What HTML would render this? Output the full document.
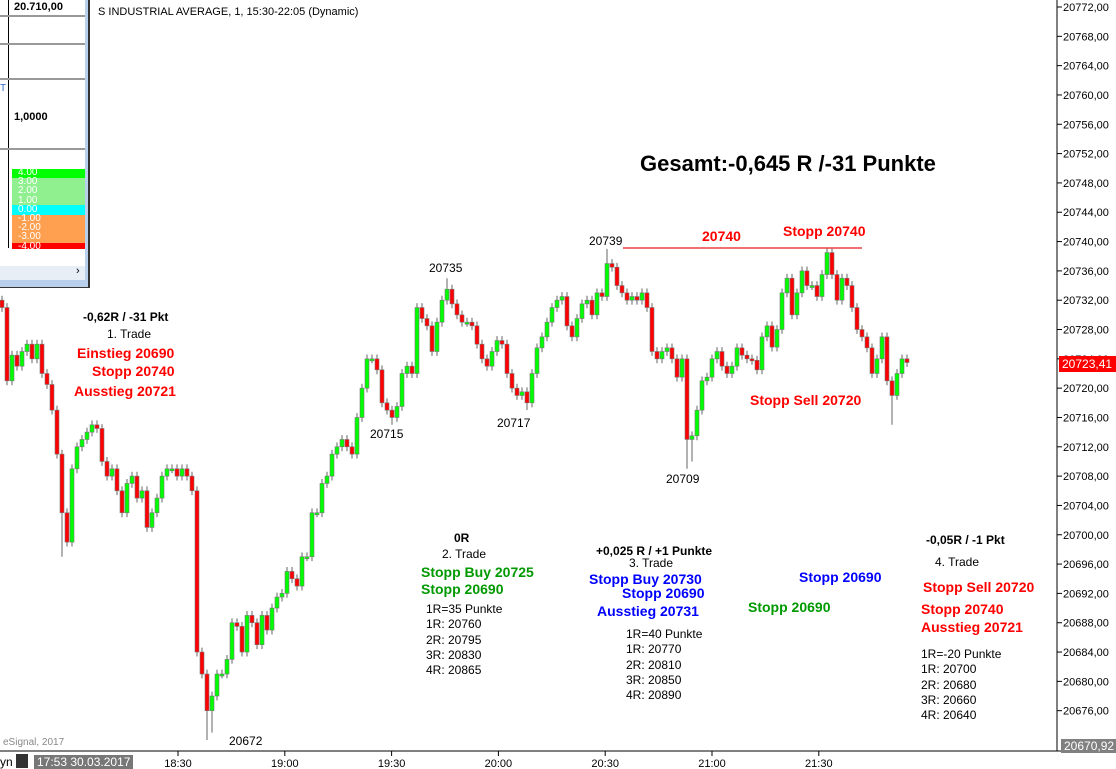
<!DOCTYPE html>
<html><head><meta charset="utf-8"><style>
body{margin:0;width:1116px;height:768px;overflow:hidden;background:#fff;font-family:"Liberation Sans",Arial,sans-serif;position:relative}
.t{position:absolute;white-space:nowrap}
.rb{color:#ff0000;font-weight:bold;font-size:14px}
.bb{color:#0000ff;font-weight:bold;font-size:14px}
.gb{color:#009900;font-weight:bold;font-size:14px}
.k{color:#000;font-size:12px}
.kb{color:#000;font-size:12px;font-weight:bold}
</style></head><body>
<svg id="chart" width="1116" height="768" style="position:absolute;left:0;top:0" font-family="Liberation Sans, Arial, sans-serif">
<g id="candles"></g>
<line x1="623" y1="248" x2="862" y2="248" stroke="#f04040" stroke-width="1.5"/>
<line x1="1057" y1="0" x2="1057" y2="751" stroke="#000"/>
<line x1="0" y1="751" x2="1116" y2="751" stroke="#000"/>
<g id="yaxis"></g>
<g id="xaxis"></g>
</svg>

<div class="t" style="left:98px;top:6px;font-size:11px;color:#000">S INDUSTRIAL AVERAGE, 1, 15:30-22:05 (Dynamic)</div>
<div class="t" style="left:640px;top:151px;font-size:22px;font-weight:bold">Gesamt:-0,645 R /-31 Punkte</div>

<div class="t kb" style="left:429px;top:261px;font-weight:normal">20735</div>
<div class="t k" style="left:589px;top:234px">20739</div>
<div class="t k" style="left:370px;top:427px">20715</div>
<div class="t k" style="left:497px;top:416px">20717</div>
<div class="t k" style="left:666px;top:472px">20709</div>
<div class="t k" style="left:229px;top:734px">20672</div>
<div class="t rb" style="left:702px;top:228px">20740</div>
<div class="t rb" style="left:783px;top:223px">Stopp 20740</div>
<div class="t rb" style="left:750px;top:392px">Stopp Sell 20720</div>

<div class="t kb" style="left:83px;top:310px">-0,62R / -31 Pkt</div>
<div class="t k" style="left:107px;top:327px">1. Trade</div>
<div class="t rb" style="left:77px;top:345px">Einstieg 20690</div>
<div class="t rb" style="left:92px;top:363px">Stopp 20740</div>
<div class="t rb" style="left:74px;top:383px">Ausstieg 20721</div>

<div class="t kb" style="left:454px;top:531px">0R</div>
<div class="t k" style="left:442px;top:547px">2. Trade</div>
<div class="t gb" style="left:421px;top:564px">Stopp Buy 20725</div>
<div class="t gb" style="left:421px;top:581px">Stopp 20690</div>
<div class="t k" style="left:426px;top:602px;line-height:15.3px">1R=35 Punkte<br>1R: 20760<br>2R: 20795<br>3R: 20830<br>4R: 20865</div>

<div class="t kb" style="left:596px;top:544px">+0,025 R / +1 Punkte</div>
<div class="t k" style="left:629px;top:556px">3. Trade</div>
<div class="t bb" style="left:589px;top:571px">Stopp Buy 20730</div>
<div class="t bb" style="left:622px;top:585px">Stopp 20690</div>
<div class="t bb" style="left:597px;top:603px">Ausstieg 20731</div>
<div class="t k" style="left:626px;top:627px;line-height:15.3px">1R=40 Punkte<br>1R: 20770<br>2R: 20810<br>3R: 20850<br>4R: 20890</div>

<div class="t bb" style="left:799px;top:569px">Stopp 20690</div>
<div class="t gb" style="left:748px;top:599px">Stopp 20690</div>

<div class="t kb" style="left:926px;top:533px">-0,05R / -1 Pkt</div>
<div class="t k" style="left:935px;top:555px">4. Trade</div>
<div class="t rb" style="left:923px;top:579px">Stopp Sell 20720</div>
<div class="t rb" style="left:921px;top:601px">Stopp 20740</div>
<div class="t rb" style="left:921px;top:619px">Ausstieg 20721</div>
<div class="t k" style="left:921px;top:647px;line-height:15.3px">1R=-20 Punkte<br>1R: 20700<br>2R: 20680<br>3R: 20660<br>4R: 20640</div>

<div class="t" style="left:3px;top:737px;font-size:10px;color:#888">eSignal, 2017</div>
<div class="t" style="left:1059px;top:356px;background:#ff0000;color:#fff;font-size:12px;padding:1px 3px;width:52px">20723,41</div>
<div class="t" style="left:1061px;top:739px;background:#808080;color:#fff;font-size:12px;padding:0 3px">20670,92</div>
<div class="t" style="left:0;top:755px;font-size:12px">yn</div>
<div class="t" style="left:16px;top:754px;width:12px;height:14px;background:#333"></div>
<div class="t" style="left:34px;top:755px;background:#777;color:#fff;font-size:12px;padding:0 3px">17:53 30.03.2017</div>

<div style="position:absolute;left:0;top:0;width:88px;height:287px;background:#b8d0ec;border-right:2px solid #333;border-bottom:1px solid #333">
 <div style="position:absolute;left:0;top:0;width:85px;height:280px;background:#fff"></div>
 <div style="position:absolute;left:8px;top:0;width:1px;height:248px;background:#000"></div>
 <div style="position:absolute;left:0;top:15px;width:85px;height:2px;background:#999"></div>
 <div style="position:absolute;left:0;top:43px;width:85px;height:2px;background:#999"></div>
 <div style="position:absolute;left:0;top:78px;width:85px;height:2px;background:#999"></div>
 <div style="position:absolute;left:0;top:148px;width:85px;height:2px;background:#999"></div>
 <div class="t" style="left:14px;top:1px;font-size:11px;font-weight:bold">20.710,00</div>
 <div class="t" style="left:14px;top:111px;font-size:11px;font-weight:bold">1,0000</div>
 <div class="t" style="left:0;top:83px;font-size:10px;color:#36c">T</div>
 <div style="position:absolute;left:12px;top:169px;width:73px;height:9px;background:#00ff00"></div>
 <div style="position:absolute;left:12px;top:178px;width:73px;height:27px;background:#90f090"></div>
 <div style="position:absolute;left:12px;top:205px;width:73px;height:10px;background:#00ffff"></div>
 <div style="position:absolute;left:12px;top:215px;width:73px;height:28px;background:#ffa050"></div>
 <div style="position:absolute;left:12px;top:243px;width:73px;height:6px;background:#ff0000"></div>
 <div class="t" style="left:18px;top:168px;font-size:10px;color:#fff;line-height:9.2px">4.00<br>3.00<br>2.00<br>1.00<br>0.00<br>-1.00<br>-2.00<br>-3.00<br>-4.00</div>
 <div style="position:absolute;left:0;top:266px;width:85px;height:14px;background:#e8eef6"></div>
 <div class="t" style="left:76px;top:265px;font-size:11px">›</div>
</div>

<script>
const NS="http://www.w3.org/2000/svg";
const closes=[20731,20721,20724.5,20723,20725,20726,20724,20726,20722,20720.5,20717,20711,20703,20699,20709,20712,20713,20714,20715,20714.5,20710,20708,20709,20706,20703,20707,20708,20705,20706,20701,20703,20705,20708,20709,20709,20708,20709,20708,20706,20684,20681,20676,20678,20681,20681,20683,20688,20687.5,20684,20689,20688,20685,20689,20687,20690,20691.5,20692,20695,20694,20693,20697,20697,20703,20703,20707,20708,20711,20712,20713,20712,20711,20716,20720,20724,20724,20722.5,20718,20717,20716,20717.5,20722,20723,20722,20731,20729.5,20728.5,20725,20729,20732,20733.5,20731.5,20730,20729,20729,20728.5,20726,20724,20723,20725,20726.5,20726,20722,20720,20719,20719.5,20718,20722,20725.5,20727,20729,20731,20732,20732.5,20728.5,20727,20729.5,20731.5,20732,20730,20733,20732.5,20737,20736.5,20734,20733,20732,20732.5,20732,20733,20731,20725,20724,20725,20725.5,20724,20721.5,20724,20713,20713.5,20717,20721,20721.5,20724,20725,20723,20722,20723,20725.5,20724.5,20724,20723.8,20722.5,20727,20728.5,20725.6,20728,20733,20735,20730,20733,20736,20734,20734,20732.5,20735.5,20738.5,20735.5,20732,20735,20734,20731,20728,20727,20725.5,20722,20724,20727,20721,20719,20722,20724,20723.5];
const spikeIdx=[12,41,42,78,89,105,121,137,138,165,178];
const spikeVal=[20697,20672,20673,20715,20735,20717,20739,20709,20710,20739,20715];
const yTicks=[20772,20768,20764,20760,20756,20752,20748,20744,20740,20736,20732,20728,20724,20720,20716,20712,20708,20704,20700,20696,20692,20688,20684,20680,20676];
const timeLabels=["18:30","19:00","19:30","20:00","20:30","21:00","21:30"];
const timeMinutes=[1110,1140,1170,1200,1230,1260,1290];
const y=p=>7+(20772-p)*7.33;
const xb=i=>2+i*5;
const xt=m=>178+(m-1110)*3.56;
const cg=document.getElementById('candles');
for(let i=0;i<closes.length;i++){
  const c=closes[i],o=i?closes[i-1]:closes[0]+1;
  let hi=Math.max(o,c)+0.6,lo=Math.min(o,c)-0.6;
  const k=spikeIdx.indexOf(i);
  if(k>=0){if(spikeVal[k]>hi)hi=spikeVal[k];else if(spikeVal[k]<lo)lo=spikeVal[k];}
  const x=xb(i);
  const w=document.createElementNS(NS,'line');
  
  
  w.setAttribute('x1',x);w.setAttribute('x2',x);w.setAttribute('y1',y(hi));w.setAttribute('y2',y(lo));
  w.setAttribute('stroke','#666');cg.appendChild(w);
  const r=document.createElementNS(NS,'rect');
  
  
  const t=Math.min(y(o),y(c)),h=Math.max(2,Math.abs(y(o)-y(c)));
  r.setAttribute('x',x-2);r.setAttribute('y',t);r.setAttribute('width',4);r.setAttribute('height',h);
  r.setAttribute('fill',c>=o?'#00ff00':'#ff0000');r.setAttribute('stroke','#777');r.setAttribute('stroke-width','0.6');
  cg.appendChild(r);
}
const ya=document.getElementById('yaxis');
yTicks.forEach(v=>{
  const l=document.createElementNS(NS,'line');
  
  
  l.setAttribute('x1',1057);l.setAttribute('x2',1062);l.setAttribute('y1',y(v));l.setAttribute('y2',y(v));l.setAttribute('stroke','#000');ya.appendChild(l);
  const t=document.createElementNS(NS,'text');
  
  
  t.setAttribute('x',1063);t.setAttribute('y',y(v)+4);t.setAttribute('font-size','11');
  t.textContent=v+',00';ya.appendChild(t);
});
const xa=document.getElementById('xaxis');
timeLabels.forEach((s,i)=>{
  const x=xt(timeMinutes[i]);
  const l=document.createElementNS(NS,'line');
  
  
  l.setAttribute('x1',x);l.setAttribute('x2',x);l.setAttribute('y1',751);l.setAttribute('y2',756);l.setAttribute('stroke','#000');xa.appendChild(l);
  const t=document.createElementNS(NS,'text');
  
  
  t.setAttribute('x',x);t.setAttribute('y',767);t.setAttribute('font-size','11');t.setAttribute('text-anchor','middle');
  t.textContent=s;xa.appendChild(t);
});
</script>
</body></html>
